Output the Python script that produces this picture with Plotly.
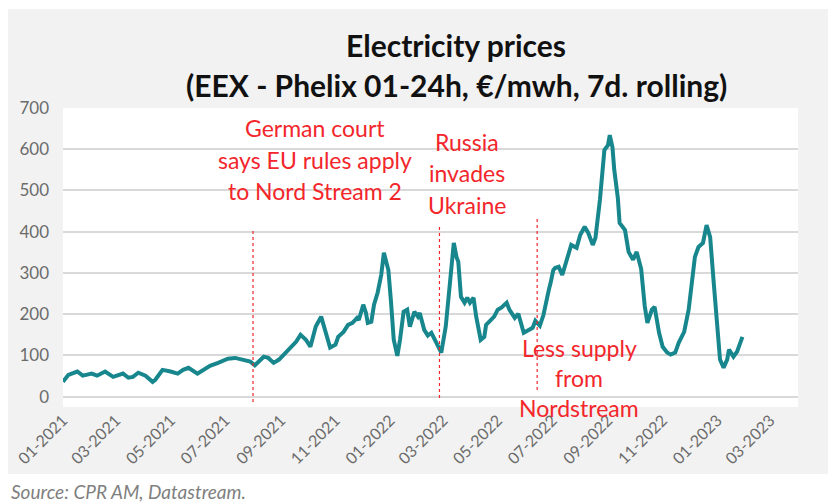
import plotly.graph_objects as go

# ---------------- data ----------------
dates = [
    "2021-01-01", "2021-01-07", "2021-01-17", "2021-01-23", "2021-02-02", "2021-02-08",
    "2021-02-17", "2021-02-26", "2021-03-09", "2021-03-15", "2021-03-20", "2021-03-26",
    "2021-04-03", "2021-04-11", "2021-04-14", "2021-04-22", "2021-05-01", "2021-05-09",
    "2021-05-15", "2021-05-21", "2021-05-31", "2021-06-06", "2021-06-14", "2021-06-23",
    "2021-07-04", "2021-07-12", "2021-07-20", "2021-07-29", "2021-08-03", "2021-08-13",
    "2021-08-18", "2021-08-24", "2021-08-30", "2021-09-04", "2021-09-12", "2021-09-18",
    "2021-09-23", "2021-09-29", "2021-10-04", "2021-10-10", "2021-10-16", "2021-10-19",
    "2021-10-26", "2021-11-01", "2021-11-04", "2021-11-10", "2021-11-15", "2021-11-20",
    "2021-11-25", "2021-11-27", "2021-12-02", "2021-12-05", "2021-12-07", "2021-12-11",
    "2021-12-14", "2021-12-18", "2021-12-22", "2021-12-25", "2021-12-27", "2021-12-30",
    "2022-01-02", "2022-01-05", "2022-01-09", "2022-01-12", "2022-01-16", "2022-01-20",
    "2022-01-23", "2022-01-28", "2022-02-01", "2022-02-03", "2022-02-08", "2022-02-12",
    "2022-02-16", "2022-02-19", "2022-02-24", "2022-02-27", "2022-03-04", "2022-03-09",
    "2022-03-13", "2022-03-16", "2022-03-18", "2022-03-21", "2022-03-25", "2022-03-28",
    "2022-03-31", "2022-04-04", "2022-04-07", "2022-04-12", "2022-04-16", "2022-04-18",
    "2022-04-23", "2022-04-27", "2022-05-01", "2022-05-05", "2022-05-11", "2022-05-14",
    "2022-05-20", "2022-05-24", "2022-05-30", "2022-06-04", "2022-06-09", "2022-06-12",
    "2022-06-17", "2022-06-21", "2022-06-24", "2022-06-27", "2022-06-29", "2022-07-02",
    "2022-07-04", "2022-07-08", "2022-07-12", "2022-07-17", "2022-07-22", "2022-07-28",
    "2022-08-01", "2022-08-06", "2022-08-10", "2022-08-15", "2022-08-18", "2022-08-23",
    "2022-08-28", "2022-09-01", "2022-09-03", "2022-09-06", "2022-09-08", "2022-09-12",
    "2022-09-14", "2022-09-20", "2022-09-24", "2022-09-29", "2022-10-03", "2022-10-08",
    "2022-10-12", "2022-10-15", "2022-10-20", "2022-10-23", "2022-10-28", "2022-11-01",
    "2022-11-06", "2022-11-10", "2022-11-15", "2022-11-19", "2022-11-25", "2022-11-30",
    "2022-12-04", "2022-12-07", "2022-12-11", "2022-12-16", "2022-12-20", "2022-12-24",
    "2022-12-28", "2023-01-01", "2023-01-04", "2023-01-08", "2023-01-12", "2023-01-14",
    "2023-01-19", "2023-01-23", "2023-01-29",
]
prices = [
    36, 53, 61, 51, 56, 51,
    61, 48, 56, 46, 48, 58,
    51, 36, 41, 65, 61, 56,
    65, 70, 56, 65, 75, 82,
    92, 94, 90, 85, 76, 97,
    94, 82, 90, 102, 119, 133,
    150, 138, 121, 170, 194, 170,
    119, 126, 145, 157, 174, 179,
    191, 186, 223, 203, 179, 182,
    223, 252, 295, 349, 332, 307,
    228, 138, 99, 138, 206, 211,
    170, 206, 194, 203, 162, 148,
    155, 143, 119, 107, 170, 283,
    373, 339, 327, 242, 228, 240,
    228, 240, 194, 138, 145, 174,
    186, 194, 211, 216, 228, 211,
    191, 201, 155, 162, 167, 184,
    172, 198, 235, 259, 276, 307,
    312, 315, 295, 332, 368, 361,
    392, 412, 397, 368, 385, 477,
    598, 610, 634, 605, 550, 482,
    421, 404, 351, 332, 351, 310,
    220, 179, 211, 218, 155, 121,
    107, 102, 107, 131, 157, 211,
    283, 339, 363, 373, 416, 387,
    276, 170, 90, 70, 90, 114,
    97, 109, 145,
]

event_dates = ["2021-08-01", "2022-02-25", "2022-06-14"]
event_texts = [
    ["German court", "says EU rules apply", "to Nord Stream 2"],
    ["Russia", "invades", "Ukraine"],
    ["Less supply", "from", "Nordstream"],
]

title_lines = ["Electricity prices", "(EEX - Phelix 01-24h, €/mwh, 7d. rolling)"]
source_text = "Source: CPR AM, Datastream."

# ---------------- layout helpers ----------------
# The page body has an 8px margin, so the figure is drawn 8px right/down.
# Positions below are given in page pixels and converted.
OFF = 8
PAGE_W, PAGE_H = 836, 504
W, H = PAGE_W - OFF, PAGE_H - OFF
PL, PR, PT, PB = 63, 798, 108, 407   # plot area in page pixels


def px(x):
    return (x - PL) / (PR - PL)


def py(y):
    return (PB - y) / (PB - PT)


FONT = "Lato"
RED = "#f2262b"
TEAL = "#17878d"
GREY_TXT = "#6b6b6b"

fig = go.Figure()
fig.add_trace(go.Scatter(
    x=dates, y=prices, mode="lines",
    line=dict(color=TEAL, width=4),
    hoverinfo="skip", showlegend=False,
))

shapes = []
# white strip below the grey chart frame
shapes.append(dict(type="rect", xref="paper", yref="paper", layer="below",
                   x0=px(0), x1=px(PAGE_W + 10), y0=py(474), y1=py(PAGE_H + 10),
                   fillcolor="white", line=dict(width=0)))
# white strip at very top (frame starts 1px below the page margin)
shapes.append(dict(type="rect", xref="paper", yref="paper", layer="below",
                   x0=px(0), x1=px(PAGE_W + 10), y0=py(9), y1=py(0),
                   fillcolor="white", line=dict(width=0)))

# event marker lines
line_spans = [(230, 402), (225, 398), (218, 390)]
for d, (ytop, ybot) in zip(event_dates, line_spans):
    shapes.append(dict(type="line", xref="x", yref="paper",
                       x0=d, x1=d, y0=py(ybot), y1=py(ytop),
                       line=dict(color=RED, width=1.2, dash="dot")))

annotations = []
text_pos = [
    (315, [128, 160, 191]),
    (467, [142, 173, 205]),
    (579, [348, 378, 408]),
]
for lines, (cx, ys) in zip(event_texts, text_pos):
    for t, yy in zip(lines, ys):
        annotations.append(dict(
            text=t, xref="paper", yref="paper", x=px(cx), y=py(yy),
            xanchor="center", yanchor="middle", showarrow=False,
            font=dict(family=FONT, size=23, color=RED)))

for t, yy in zip(title_lines, [45, 85]):
    annotations.append(dict(
        text="<b>" + t + "</b>", xref="paper", yref="paper", x=px(456), y=py(yy),
        xanchor="center", yanchor="middle", showarrow=False,
        font=dict(family=FONT, size=30, color="#111111")))

annotations.append(dict(
    text="<i>" + source_text + "</i>", xref="paper", yref="paper",
    x=px(9), y=py(491), xanchor="left", yanchor="middle", showarrow=False,
    font=dict(family=FONT, size=19, color="#7f7f7f")))

fig.update_layout(
    width=W, height=H,
    margin=dict(l=PL - OFF, r=PAGE_W - PR, t=PT - OFF, b=PAGE_H - PB, pad=0,
                autoexpand=False),
    paper_bgcolor="#f2f2f2",
    plot_bgcolor="white",
    shapes=shapes,
    annotations=annotations,
    showlegend=False,
    font=dict(family=FONT, color=GREY_TXT),
)
fig.update_xaxes(
    type="date", range=["2021-01-01", "2023-04-01"], automargin=False,
    tick0="2021-01-01", dtick="M2", tickformat="%m-%Y", tickangle=-45,
    showgrid=False, zeroline=False, showline=False, ticks="",
    tickfont=dict(family=FONT, size=16, color=GREY_TXT),
)
fig.update_yaxes(
    range=[-25, 700], tick0=0, dtick=100, automargin=False,
    showgrid=True, gridcolor="#d9d9d9", gridwidth=2,
    zeroline=False, showline=False, ticks="",
    ticklabelstandoff=13,
    tickfont=dict(family=FONT, size=17, color=GREY_TXT),
)

fig.write_html("out.html")
